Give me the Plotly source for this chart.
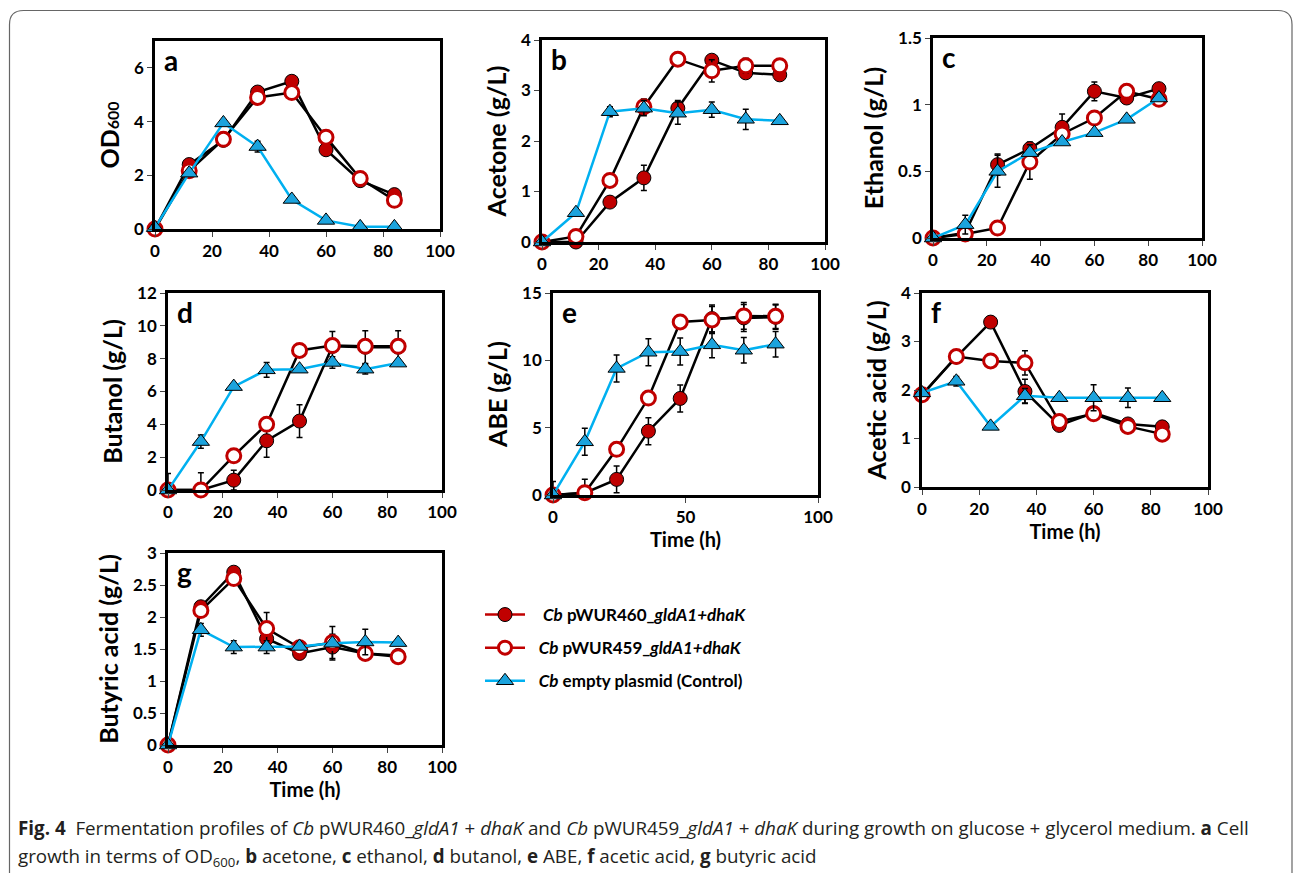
import plotly.graph_objects as go

# ---------------- data ----------------
time_h = [0, 12, 24, 36, 48, 60, 72, 84]

od_460 = [0.0, 2.4, 3.3, 5.1, 5.5, 2.95, 1.8, 1.28]
od_459 = [0.0, 2.17, 3.34, 4.9, 5.08, 3.42, 1.88, 1.07]
od_ctl = [0.05, 2.08, 3.95, 3.07, 1.1, 0.32, 0.08, 0.08]
od_460_err = [0, 0, 0, 0, 0, 0, 0, 0]
od_459_err = [0, 0, 0, 0, 0, 0, 0, 0]
od_ctl_err = [0, 0, 0, 0.2, 0, 0, 0, 0]

acetone_460 = [0, 0, 0.79, 1.27, 2.65, 3.6, 3.35, 3.31]
acetone_459 = [0, 0.11, 1.22, 2.68, 3.62, 3.39, 3.49, 3.49]
acetone_ctl = [0, 0.58, 2.58, 2.65, 2.55, 2.62, 2.43, 2.4]
acetone_460_err = [0, 0, 0, 0.25, 0.15, 0, 0, 0]
acetone_459_err = [0, 0, 0, 0.15, 0, 0.22, 0.15, 0]
acetone_ctl_err = [0, 0, 0.1, 0.15, 0.22, 0.15, 0.2, 0]

ethanol_460 = [0, 0.04, 0.55, 0.67, 0.83, 1.1, 1.05, 1.12]
ethanol_459 = [0, 0.03, 0.075, 0.57, 0.78, 0.9, 1.1, 1.04]
ethanol_ctl = [0, 0.1, 0.5, 0.64, 0.72, 0.79, 0.89, 1.05]
ethanol_460_err = [0, 0, 0.08, 0.05, 0.1, 0.07, 0, 0]
ethanol_459_err = [0, 0, 0, 0.13, 0, 0, 0, 0]
ethanol_ctl_err = [0, 0.07, 0.12, 0, 0, 0, 0, 0]

butanol_460 = [0, 0, 0.6, 3.0, 4.2, 8.75, 8.7, 8.7]
butanol_459 = [0, 0, 2.08, 4.0, 8.5, 8.8, 8.75, 8.75]
butanol_ctl = [0, 2.95, 6.3, 7.32, 7.36, 7.77, 7.36, 7.73]
butanol_460_err = [1.0, 0, 0.6, 1.0, 1.0, 0.9, 1.0, 1.0]
butanol_459_err = [0, 1.05, 0, 0, 0, 0, 0, 0]
butanol_ctl_err = [0, 0.4, 0, 0.45, 0, 0.35, 0.3, 0]

abe_460 = [0, 0.15, 1.16, 4.74, 7.17, 13.1, 13.15, 13.2]
abe_459 = [0, 0.17, 3.39, 7.2, 12.85, 13.0, 13.3, 13.27]
abe_ctl = [0, 3.95, 9.4, 10.6, 10.65, 11.15, 10.75, 11.2]
abe_460_err = [1.0, 0, 1.0, 1.0, 1.0, 1.0, 1.0, 0.9]
abe_459_err = [0, 1.0, 0, 0, 0.3, 1.0, 1.0, 0.9]
abe_ctl_err = [0, 1.0, 1.0, 1.0, 1.0, 0.95, 0.95, 0.95]

acetic_460 = [1.9, 2.68, 3.4, 1.97, 1.27, 1.53, 1.3, 1.24]
acetic_459 = [1.9, 2.69, 2.6, 2.56, 1.35, 1.51, 1.25, 1.09]
acetic_ctl = [1.94, 2.18, 1.25, 1.88, 1.84, 1.84, 1.84, 1.84]
acetic_460_err = [0, 0, 0, 0.25, 0, 0, 0, 0]
acetic_459_err = [0, 0, 0, 0.25, 0, 0, 0, 0]
acetic_ctl_err = [0, 0.1, 0, 0.15, 0, 0.27, 0.2, 0]

butyric_460 = [0, 2.16, 2.7, 1.66, 1.43, 1.53, 1.43, 1.4]
butyric_459 = [0, 2.1, 2.6, 1.82, 1.52, 1.6, 1.43, 1.38]
butyric_ctl = [0, 1.8, 1.53, 1.53, 1.54, 1.59, 1.61, 1.6]
butyric_460_err = [0, 0, 0, 0.1, 0, 0.2, 0, 0]
butyric_459_err = [0, 0, 0, 0.25, 0, 0.25, 0, 0]
butyric_ctl_err = [0, 0.1, 0.1, 0.1, 0, 0, 0.2, 0]

# tick labels
x_ticks_20 = [0, 20, 40, 60, 80, 100]
x_ticks_50 = [0, 50, 100]
y_ticks_od = [0, 2, 4, 6]
y_ticks_acetone = [0, 1, 2, 3, 4]
y_ticks_ethanol = [0, 0.5, 1, 1.5]
y_ticks_butanol = [0, 2, 4, 6, 8, 10, 12]
y_ticks_abe = [0, 5, 10, 15]
y_ticks_acetic = [0, 1, 2, 3, 4]
y_ticks_butyric = [0, 0.5, 1, 1.5, 2, 2.5, 3]

panel_letters = ["a", "b", "c", "d", "e", "f", "g"]
y_titles = ["OD<span style='font-size:16px'>600</span>", "Acetone (g/L)", "Ethanol (g/L)",
            "Butanol (g/L)", "ABE (g/L)", "Acetic acid (g/L)", "Butyric acid (g/L)"]
y_ranges = [[0, 7], [0, 4], [0, 1.5], [0, 12], [0, 15], [0, 4], [0, 3]]
y_tick_lists = [y_ticks_od, y_ticks_acetone, y_ticks_ethanol, y_ticks_butanol,
                y_ticks_abe, y_ticks_acetic, y_ticks_butyric]
x_tick_lists = [x_ticks_20, x_ticks_20, x_ticks_20, x_ticks_20, x_ticks_50, x_ticks_20, x_ticks_20]
x_titles = ["", "", "", "", "Time (h)", "Time (h)", "Time (h)"]

legend_names = ["\u00a0\u00a0\u00a0<b><i>Cb</i> pWUR460_<i>gldA1+dhaK</i></b>",
                "\u00a0\u00a0<b><i>Cb</i> pWUR459_<i>gldA1+dhaK</i></b>",
                "\u00a0\u00a0<b><i>Cb</i> empty plasmid (Control)</b>"]

caption_line1 = ("<b>Fig. 4</b>  Fermentation profiles of <i>Cb</i> pWUR460_<i>gldA1</i> + <i>dhaK</i> and "
                 "<i>Cb</i> pWUR459_<i>gldA1</i> + <i>dhaK</i> during growth on glucose + glycerol medium. "
                 "<b>a</b> Cell")
caption_line2 = ("growth in terms of OD<sub>600</sub>, <b>b</b> acetone, <b>c</b> ethanol, <b>d</b> butanol, "
                 "<b>e</b> ABE, <b>f</b> acetic acid, <b>g</b> butyric acid")

series = [
    (od_460, od_459, od_ctl, od_460_err, od_459_err, od_ctl_err),
    (acetone_460, acetone_459, acetone_ctl, acetone_460_err, acetone_459_err, acetone_ctl_err),
    (ethanol_460, ethanol_459, ethanol_ctl, ethanol_460_err, ethanol_459_err, ethanol_ctl_err),
    (butanol_460, butanol_459, butanol_ctl, butanol_460_err, butanol_459_err, butanol_ctl_err),
    (abe_460, abe_459, abe_ctl, abe_460_err, abe_459_err, abe_ctl_err),
    (acetic_460, acetic_459, acetic_ctl, acetic_460_err, acetic_459_err, acetic_ctl_err),
    (butyric_460, butyric_459, butyric_ctl, butyric_460_err, butyric_459_err, butyric_ctl_err),
]

# ---------------- layout geometry (pixels) ----------------
W, H = 1295, 873
boxes = [  # left, right, top, bottom
    (155, 440, 41, 229),
    (542, 825, 40, 242),
    (933, 1202, 38, 238),
    (168, 442, 293, 490),
    (553, 818, 293, 495),
    (922, 1208, 293, 487),
    (168, 442, 553, 745),
]

RED = "#C00000"
BLUE_LINE = "#00B0F0"
BLUE_MK = "#1BA3DD"
FONT = "Lato"

fig = go.Figure()

def err(arr):
    return dict(type="data", array=arr, visible=True, color="black", thickness=1.5, width=3)

def fmt(v):
    return f"<b>{v:g}</b>"

for i, (s460, s459, sctl, e460, e459, ectl) in enumerate(series):
    xa = "x" if i == 0 else f"x{i+1}"
    ya = "y" if i == 0 else f"y{i+1}"
    fig.add_trace(go.Scatter(x=time_h, y=s460, xaxis=xa, yaxis=ya, mode="lines+markers",
                             line=dict(color="black", width=2.5), cliponaxis=False,
                             marker=dict(symbol="circle", size=14, color=RED, line=dict(color="black", width=1)),
                             error_y=err(e460), showlegend=False))
    fig.add_trace(go.Scatter(x=time_h, y=s459, xaxis=xa, yaxis=ya, mode="lines+markers",
                             line=dict(color="black", width=2.5), cliponaxis=False,
                             marker=dict(symbol="circle", size=14, color="white", line=dict(color=RED, width=3)),
                             error_y=err(e459), showlegend=False))
    fig.add_trace(go.Scatter(x=time_h, y=sctl, xaxis=xa, yaxis=ya, mode="lines+markers",
                             line=dict(color=BLUE_LINE, width=2.5), cliponaxis=False,
                             marker=dict(symbol="triangle-up", size=15, color=BLUE_MK, line=dict(color="black", width=1)),
                             error_y=err(ectl), showlegend=False))

# legend entries
fig.add_trace(go.Scatter(x=[None], y=[None], mode="lines+markers", name=legend_names[0], legendgroup="g1",
                         line=dict(color=RED, width=2.5),
                         marker=dict(symbol="circle", size=14, color=RED, line=dict(color="black", width=1))))
fig.add_trace(go.Scatter(x=[None], y=[None], mode="lines+markers", name=legend_names[1], legendgroup="g2",
                         line=dict(color=RED, width=2.5),
                         marker=dict(symbol="circle", size=13, color="white", line=dict(color=RED, width=3))))
fig.add_trace(go.Scatter(x=[None], y=[None], mode="lines+markers", name=legend_names[2], legendgroup="g3",
                         line=dict(color=BLUE_LINE, width=2.5),
                         marker=dict(symbol="triangle-up", size=15, color=BLUE_MK, line=dict(color="black", width=1))))

layout = dict(width=W, height=H, autosize=False,
              margin=dict(l=0, r=0, t=0, b=0, pad=0, autoexpand=False),
              paper_bgcolor="white", plot_bgcolor="white",
              font=dict(family=FONT, color="black"),
              showlegend=True,
              legend=dict(x=480 / W, y=1 - 597 / H, xanchor="left", yanchor="top",
                          bgcolor="rgba(0,0,0,0)", font=dict(family=FONT, size=17, color="black"),
                          tracegroupgap=8, traceorder="grouped", itemwidth=40))

annotations = []
for i, (l, r, t, b) in enumerate(boxes):
    sfx = "" if i == 0 else str(i + 1)
    layout[f"xaxis{sfx}"] = dict(domain=[l / W, r / W], anchor=f"y{sfx}", range=[0, 100],
                                 tickmode="array", tickvals=x_tick_lists[i],
                                 ticktext=[fmt(v) for v in x_tick_lists[i]],
                                 showline=True, linecolor="black", linewidth=2.5, mirror=True,
                                 ticks="outside", ticklen=5, tickwidth=1, tickcolor="#444",
                                 showgrid=False, zeroline=False, automargin=False,
                                 tickfont=dict(family=FONT, size=17, color="black", weight="bold"),
                                 title=dict(text=f"<b>{x_titles[i]}</b>" if x_titles[i] else "",
                                            font=dict(family=FONT, size=20, color="black"), standoff=6))
    layout[f"yaxis{sfx}"] = dict(domain=[1 - b / H, 1 - t / H], anchor=f"x{sfx}", range=y_ranges[i],
                                 tickmode="array", tickvals=y_tick_lists[i],
                                 ticktext=[fmt(v) for v in y_tick_lists[i]],
                                 showline=True, linecolor="black", linewidth=2.5,
                                 mirror=True, ticks="outside", ticklen=5, tickwidth=1, tickcolor="#444",
                                 showgrid=False, zeroline=False, automargin=False,
                                 tickfont=dict(family=FONT, size=17, color="black", weight="bold"),
                                 title=dict(text=f"<b>{y_titles[i]}</b>",
                                            font=dict(family=FONT, size=25, color="black"), standoff=8))
    annotations.append(dict(text=f"<b>{panel_letters[i]}</b>", xref=f"x{sfx} domain", yref=f"y{sfx} domain",
                            x=0.025, y=1.0, xanchor="left", yanchor="top", showarrow=False,
                            font=dict(family=FONT, size=28, color="black")))

annotations.append(dict(text=caption_line1, xref="paper", yref="paper", x=16 / W, y=1 - 828 / H,
                        xanchor="left", yanchor="middle", showarrow=False,
                        font=dict(family="Open Sans", size=18.8, color="#231F20")))
annotations.append(dict(text=caption_line2, xref="paper", yref="paper", x=16 / W, y=1 - 857 / H,
                        xanchor="left", yanchor="middle", showarrow=False,
                        font=dict(family="Open Sans", size=18.8, color="#231F20")))
layout["annotations"] = annotations

# rounded outer border
x0, x1, y0 = 9.5 / W, 1292 / W, 1 - 10.5 / H
rx, ry = 14 / W, 14 / H
yb = -0.05
path = (f"M {x0},{yb} L {x0},{y0 - ry} Q {x0},{y0} {x0 + rx},{y0} "
        f"L {x1 - rx},{y0} Q {x1},{y0} {x1},{y0 - ry} L {x1},{yb}")
layout["shapes"] = [dict(type="path", path=path, xref="paper", yref="paper",
                         line=dict(color="#666", width=1.2), layer="below")]

fig.update_layout(**layout)
fig.write_html("out.html")
